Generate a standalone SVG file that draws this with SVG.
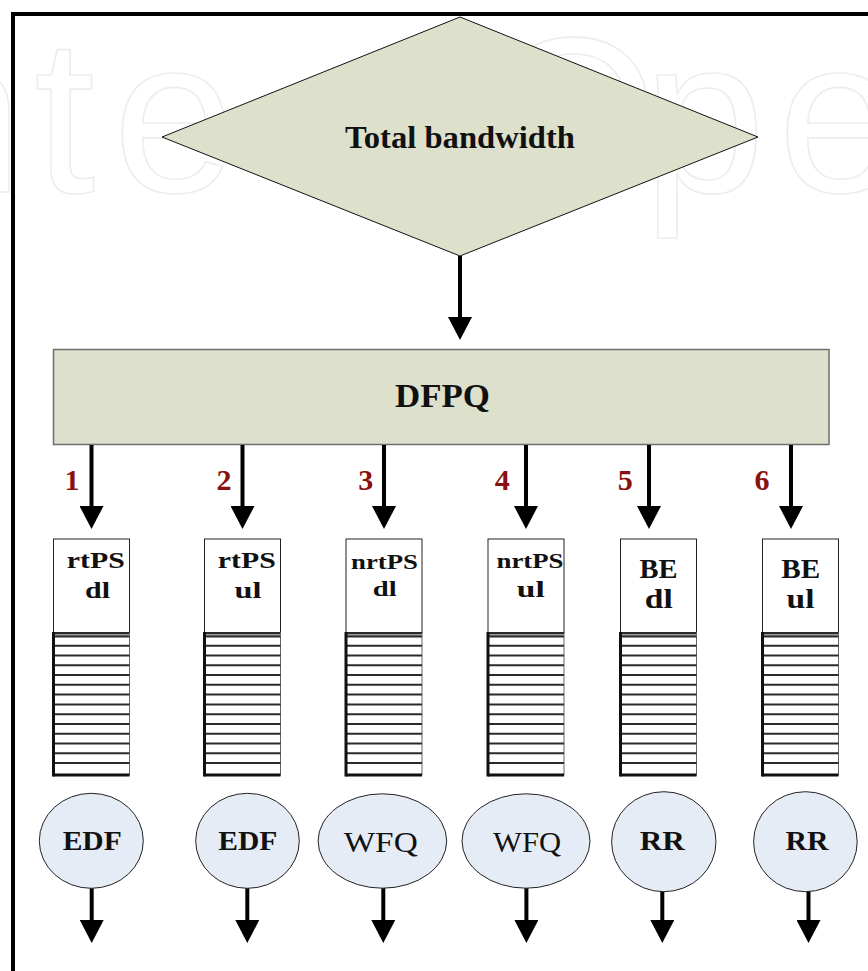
<svg xmlns="http://www.w3.org/2000/svg" xmlns:xlink="http://www.w3.org/1999/xlink" width="868" height="971" viewBox="0 0 868 971">
<style>
.wm{font-family:"Liberation Sans","Arial",sans-serif;font-size:220px;fill:none;stroke:#ededed;stroke-width:1.6}
.t{font-family:"Liberation Serif","DejaVu Serif",serif;fill:#111;text-anchor:middle}
.b{font-weight:bold}
.num{font-family:"Liberation Serif","DejaVu Serif",serif;font-weight:bold;font-size:30px;fill:#8b1010;text-anchor:middle}
.qbox{fill:#fff;stroke:#222;stroke-width:1}
.ell{fill:#e6ecf6;stroke:#222;stroke-width:1}
.conn{stroke:#000;stroke-width:4;fill:none;marker-end:url(#ah)}
.sl{stroke:#2b2b2b;stroke-width:2}
</style>
<defs>
<marker id="ah" markerUnits="userSpaceOnUse" viewBox="0 0 23 24" markerWidth="23" markerHeight="24" refX="13" refY="12" orient="auto">
<path d="M0,0 L23,12 L0,24 Z" fill="#000"/>
</marker>
<g id="stripes">
<rect x="0" y="632.5" width="76" height="142.5" fill="#fff" stroke="#666" stroke-width="1"/>
<rect x="0" y="633" width="76" height="3.5" fill="#9a9a9a"/>
<line class="sl" x1="0" y1="633" x2="76" y2="633"/>
<line class="sl" x1="0" y1="636.5" x2="76" y2="636.5"/>
<line class="sl" x1="0" y1="645.7" x2="76" y2="645.7"/>
<line class="sl" x1="0" y1="655.5" x2="76" y2="655.5"/>
<line class="sl" x1="0" y1="665.3" x2="76" y2="665.3"/>
<line class="sl" x1="0" y1="675.0" x2="76" y2="675.0"/>
<line class="sl" x1="0" y1="684.8" x2="76" y2="684.8"/>
<line class="sl" x1="0" y1="694.6" x2="76" y2="694.6"/>
<line class="sl" x1="0" y1="704.4" x2="76" y2="704.4"/>
<line class="sl" x1="0" y1="714.2" x2="76" y2="714.2"/>
<line class="sl" x1="0" y1="723.9" x2="76" y2="723.9"/>
<line class="sl" x1="0" y1="733.7" x2="76" y2="733.7"/>
<line class="sl" x1="0" y1="743.5" x2="76" y2="743.5"/>
<line class="sl" x1="0" y1="753.3" x2="76" y2="753.3"/>
<line class="sl" x1="0" y1="763.1" x2="76" y2="763.1"/>
<line x1="0" y1="632" x2="0" y2="776.5" stroke="#111" stroke-width="3"/>
<line x1="0" y1="775" x2="76" y2="775" stroke="#111" stroke-width="3"/>
</g>
</defs>
<rect x="0" y="0" width="868" height="971" fill="#fff"/>
<g id="watermark">
<text class="wm" x="-99 34 113" y="192">nte</text>
<text class="wm" x="488 643 778 900" y="192">Open</text>
</g>
<g id="frame">
<line x1="11" y1="14" x2="868" y2="14" stroke="#000" stroke-width="4"/>
<line x1="13" y1="12" x2="13" y2="971" stroke="#000" stroke-width="4"/>
</g>
<g id="node-total">
<polygon points="460,17 758,137 460,256 162,137" fill="#dde0cb" stroke="#111" stroke-width="1"/>
<text class="t b" x="460" y="148" font-size="32" textLength="230" lengthAdjust="spacingAndGlyphs">Total bandwidth</text>
</g>
<g id="node-dfpq">
<rect x="53.5" y="349.5" width="775.5" height="95" fill="#dde0cb" stroke="#6e6e6e" stroke-width="1.5"/>
<text class="t b" x="442.5" y="407" font-size="33" textLength="95" lengthAdjust="spacingAndGlyphs">DFPQ</text>
</g>
<g id="connectors">
<line class="conn" x1="460" y1="256" x2="460" y2="330"/>
<line class="conn" x1="91.5" y1="445" x2="91.5" y2="519"/>
<line class="conn" x1="242.5" y1="445" x2="242.5" y2="519"/>
<line class="conn" x1="384" y1="445" x2="384" y2="519"/>
<line class="conn" x1="526" y1="445" x2="526" y2="519"/>
<line class="conn" x1="649" y1="445" x2="649" y2="519"/>
<line class="conn" x1="791" y1="445" x2="791" y2="519"/>
<line class="conn" x1="91.7" y1="888" x2="91.7" y2="933"/>
<line class="conn" x1="247.3" y1="888" x2="247.3" y2="933"/>
<line class="conn" x1="383.3" y1="888" x2="383.3" y2="933"/>
<line class="conn" x1="526.4" y1="888" x2="526.4" y2="933"/>
<line class="conn" x1="662.3" y1="891" x2="662.3" y2="933"/>
<line class="conn" x1="808.5" y1="891" x2="808.5" y2="933"/>
<text class="num" x="72" y="490">1</text>
<text class="num" x="224" y="490">2</text>
<text class="num" x="365.7" y="490">3</text>
<text class="num" x="502.3" y="490">4</text>
<text class="num" x="625.3" y="490">5</text>
<text class="num" x="762" y="490">6</text>
</g>
<g id="queue-1">
<rect class="qbox" x="53.5" y="539" width="76" height="93.5"/>
<use xlink:href="#stripes" x="53.5"/>
<text class="t b" x="95.8" y="568" font-size="23" textLength="58" lengthAdjust="spacingAndGlyphs">rtPS</text>
<text class="t b" x="97.5" y="598" font-size="23" textLength="25" lengthAdjust="spacingAndGlyphs">dl</text>
</g>
<g id="queue-2">
<rect class="qbox" x="204.5" y="539" width="76" height="93.5"/>
<use xlink:href="#stripes" x="204.5"/>
<text class="t b" x="246.8" y="568" font-size="23" textLength="58" lengthAdjust="spacingAndGlyphs">rtPS</text>
<text class="t b" x="248" y="598" font-size="23" textLength="27" lengthAdjust="spacingAndGlyphs">ul</text>
</g>
<g id="queue-3">
<rect class="qbox" x="346" y="539" width="76" height="93.5"/>
<use xlink:href="#stripes" x="346"/>
<text class="t b" x="384.5" y="569" font-size="22" textLength="67" lengthAdjust="spacingAndGlyphs">nrtPS</text>
<text class="t b" x="384.7" y="596" font-size="22" textLength="24" lengthAdjust="spacingAndGlyphs">dl</text>
</g>
<g id="queue-4">
<rect class="qbox" x="488" y="539" width="76" height="93.5"/>
<use xlink:href="#stripes" x="488"/>
<text class="t b" x="530" y="568" font-size="22" textLength="67" lengthAdjust="spacingAndGlyphs">nrtPS</text>
<text class="t b" x="530.8" y="597" font-size="23" textLength="28" lengthAdjust="spacingAndGlyphs">ul</text>
</g>
<g id="queue-5">
<rect class="qbox" x="620.5" y="539" width="76" height="93.5"/>
<use xlink:href="#stripes" x="620.5"/>
<text class="t b" x="658.5" y="578" font-size="28" textLength="38" lengthAdjust="spacingAndGlyphs">BE</text>
<text class="t b" x="658.8" y="608" font-size="28" textLength="28" lengthAdjust="spacingAndGlyphs">dl</text>
</g>
<g id="queue-6">
<rect class="qbox" x="762.5" y="539" width="76" height="93.5"/>
<use xlink:href="#stripes" x="762.5"/>
<text class="t b" x="800.8" y="578" font-size="28" textLength="39" lengthAdjust="spacingAndGlyphs">BE</text>
<text class="t b" x="800.5" y="608" font-size="28" textLength="28" lengthAdjust="spacingAndGlyphs">ul</text>
</g>
<g id="sched-1">
<ellipse class="ell" cx="91.3" cy="840.8" rx="52" ry="47.5"/>
<text class="t b" x="92.2" y="850" font-size="27" textLength="59" lengthAdjust="spacingAndGlyphs">EDF</text>
</g>
<g id="sched-2">
<ellipse class="ell" cx="247.5" cy="840.8" rx="51.8" ry="47.5"/>
<text class="t b" x="247.8" y="850" font-size="27" textLength="59" lengthAdjust="spacingAndGlyphs">EDF</text>
</g>
<g id="sched-3">
<ellipse class="ell" cx="382.4" cy="841" rx="64.3" ry="47.2"/>
<text class="t" x="380.7" y="851.5" font-size="30" textLength="74" lengthAdjust="spacingAndGlyphs">WFQ</text>
</g>
<g id="sched-4">
<ellipse class="ell" cx="526" cy="841" rx="64" ry="47.2"/>
<text class="t" x="527" y="851.5" font-size="30" textLength="68" lengthAdjust="spacingAndGlyphs">WFQ</text>
</g>
<g id="sched-5">
<ellipse class="ell" cx="663.8" cy="841.7" rx="52.2" ry="50"/>
<text class="t b" x="662.3" y="849.5" font-size="27" textLength="45" lengthAdjust="spacingAndGlyphs">RR</text>
</g>
<g id="sched-6">
<ellipse class="ell" cx="805.4" cy="841.7" rx="51.8" ry="50"/>
<text class="t b" x="807" y="849.5" font-size="27" textLength="43" lengthAdjust="spacingAndGlyphs">RR</text>
</g>
</svg>
